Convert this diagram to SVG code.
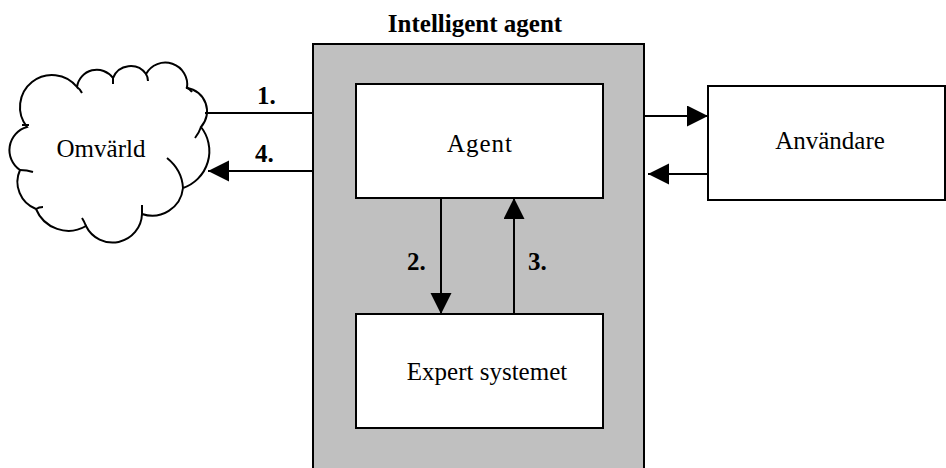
<svg xmlns="http://www.w3.org/2000/svg" width="946" height="468" viewBox="0 0 946 468">
<style>
.box{fill:#fff;stroke:#000;stroke-width:2}
.t{font-family:"Liberation Serif","Times New Roman",serif;font-size:25px;fill:#000;text-anchor:middle}
.b{font-family:"Liberation Serif","Times New Roman",serif;font-weight:bold;font-size:25px;fill:#000}
.ln{stroke:#000;stroke-width:2;fill:none}
</style>
<defs>
<marker id="ah" markerUnits="userSpaceOnUse" markerWidth="22" markerHeight="22" refX="21" refY="10.5" orient="auto">
<path d="M0,0 L21,10.5 L0,21 z" fill="#000"/>
</marker>
</defs>
<rect width="946" height="468" fill="#fff"/>
<g id="intelligent-agent">
<rect x="313" y="44" width="331" height="430" fill="#c0c0c0" stroke="#000" stroke-width="2"/>
<text class="b" x="475" y="32" text-anchor="middle">Intelligent agent</text>
</g>
<g id="omvarld">
<path class="ln" fill="#fff" d="M27,127 A28,28 0 0 1 77,87 A20,20 0 0 1 113,78 A19,19 0 0 1 146,74 A22,22 0 0 1 187,88 A23.5,23.5 0 0 1 201,127 A39,39 0 0 1 183,188 A31,31 0 0 1 142,214 A29.5,29.5 0 0 1 86,226 A35,35 0 0 1 36,209 A29,29 0 0 1 20,170 A24,24 0 0 1 27,127 Z"/>
<path class="ln" d="M22,125 L29,125 M77,87 Q80,89 82,93 M113,78 L113,84 M146,74 Q148,77 148,81 M186,87 Q190,89 192,92 M201,127 Q199,133 195,138 M183,188 Q182,170 167,158 M142,214 L142,205 M86,226 Q84,221 82,218 M36,209 Q39,207 43,207 M20,170 Q27,170 33,172"/>
<text class="t" x="101" y="157">Omvärld</text>
</g>
<g id="agent">
<rect class="box" x="356" y="84" width="247" height="114"/>
<text class="t" x="480" y="152" letter-spacing="1">Agent</text>
</g>
<g id="expert">
<rect class="box" x="356" y="314" width="247" height="114"/>
<text class="t" x="487" y="380">Expert systemet</text>
</g>
<g id="anvandare">
<rect class="box" x="708" y="86" width="237" height="114"/>
<text class="t" x="830" y="149">Användare</text>
</g>
<g id="connectors">
<line class="ln" x1="205" y1="113" x2="313" y2="113"/>
<line class="ln" x1="313" y1="171" x2="208" y2="171" marker-end="url(#ah)"/>
<line class="ln" x1="644" y1="116" x2="708" y2="116" marker-end="url(#ah)"/>
<line class="ln" x1="708" y1="174" x2="648" y2="174" marker-end="url(#ah)"/>
<line class="ln" x1="441" y1="198" x2="441" y2="314" marker-end="url(#ah)"/>
<line class="ln" x1="514" y1="314" x2="514" y2="198" marker-end="url(#ah)"/>
<text class="b" x="257" y="104">1.</text>
<text class="b" x="255" y="162">4.</text>
<text class="b" x="407" y="270">2.</text>
<text class="b" x="528" y="270">3.</text>
</g>
</svg>
